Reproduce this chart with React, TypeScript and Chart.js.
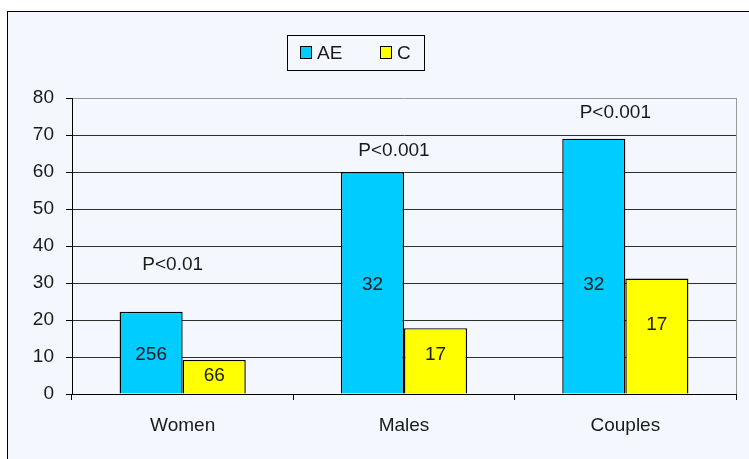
import React, { useEffect, useRef } from 'react';
import { Chart, registerables } from 'chart.js';

Chart.register(...registerables);

const groups = ['Women', 'Males', 'Couples'];
const aeValues = [22.2, 60, 69];
const cValues = [9.2, 17.8, 31.2];
// counts printed inside the bars, and the value level where each sits
const aeCounts = ['256', '32', '32'];
const cCounts = ['66', '17', '17'];
const aeCountAt = [10.5, 29.5, 29.5];
const cCountAt = [4.9, 10.5, 18.6];
// significance notes above each group
const pTexts = ['P<0.01', 'P<0.001', 'P<0.001'];
const pAt = [34.9, 65.8, 76.1];
const yTicks = [0, 10, 20, 30, 40, 50, 60, 70, 80];

const FONT = '"Liberation Sans", Arial, sans-serif';
const AE_COLOR = '#00CCFF';
const C_COLOR = '#FFFF00';

const annotations = {
    id: 'annotations',
    beforeDatasetsDraw(chart: Chart) {
        const { ctx, chartArea } = chart;
        ctx.save();
        ctx.strokeStyle = '#9a9a9a';
        ctx.lineWidth = 1;
        ctx.beginPath();
        ctx.moveTo(Math.round(chartArea.right) + 0.5, chartArea.top);
        ctx.lineTo(Math.round(chartArea.right) + 0.5, chartArea.bottom);
        ctx.stroke();
        ctx.restore();
    },
    afterDatasetsDraw(chart: Chart) {
        const { ctx } = chart;
        const y = chart.scales.y;
        const x = chart.scales.x;
        const aeMeta = chart.getDatasetMeta(0);
        const cMeta = chart.getDatasetMeta(1);
        ctx.save();
        ctx.font = `19px ${FONT}`;
        ctx.fillStyle = '#1a1a1a';
        ctx.textAlign = 'center';
        ctx.textBaseline = 'middle';
        groups.forEach((_, i) => {
            ctx.fillText(aeCounts[i], aeMeta.data[i].x, y.getPixelForValue(aeCountAt[i]));
            ctx.fillText(cCounts[i], cMeta.data[i].x, y.getPixelForValue(cCountAt[i]));
            ctx.fillText(pTexts[i], x.getPixelForValue(i) - 10, y.getPixelForValue(pAt[i]));
        });

        // legend box
        ctx.strokeStyle = '#000';
        ctx.lineWidth = 1;
        ctx.strokeRect(287.5, 35.5, 137, 35);
        ctx.fillStyle = AE_COLOR;
        ctx.fillRect(300.5, 46.5, 11, 12);
        ctx.strokeRect(300.5, 46.5, 11, 12);
        ctx.fillStyle = C_COLOR;
        ctx.fillRect(380.5, 46.5, 11, 12);
        ctx.strokeRect(380.5, 46.5, 11, 12);
        ctx.fillStyle = '#1a1a1a';
        ctx.textAlign = 'left';
        ctx.textBaseline = 'alphabetic';
        ctx.fillText('AE', 317, 59);
        ctx.fillText('C', 397, 59);
        ctx.restore();
    },
};

const App: React.FC = () => {
    const canvasRef = useRef<HTMLCanvasElement | null>(null);
    const chartRef = useRef<Chart | null>(null);

    useEffect(() => {
        if (!canvasRef.current) return;
        if (chartRef.current) chartRef.current.destroy();

        chartRef.current = new Chart(canvasRef.current, {
            type: 'bar',
            data: {
                labels: groups,
                datasets: [
                    { label: 'AE', data: aeValues, backgroundColor: AE_COLOR, borderColor: '#000', borderWidth: 1.4 },
                    { label: 'C', data: cValues, backgroundColor: C_COLOR, borderColor: '#000', borderWidth: 1.4 },
                ],
            },
            options: {
                animation: false,
                responsive: true,
                maintainAspectRatio: false,
                datasets: { bar: { categoryPercentage: 0.57, barPercentage: 1 } },
                layout: { padding: { left: 0, right: 13, top: 98, bottom: 0 } },
                scales: {
                    x: {
                        offset: true,
                        grid: { offset: true, drawOnChartArea: false, drawTicks: true, tickLength: 6, tickColor: '#000' },
                        border: { display: true, color: '#000', width: 1 },
                        ticks: { color: '#1a1a1a', padding: 14, font: { family: FONT, size: 19 } },
                        afterFit: (scale: any) => { scale.height = 65; },
                    },
                    y: {
                        min: 0,
                        max: 80,
                        afterBuildTicks: (scale: any) => { scale.ticks = yTicks.map(v => ({ value: v })); },
                        grid: {
                            color: (c: any) => (c.tick && c.tick.value === 80 ? '#9a9a9a' : '#2e2e2e'),
                            tickLength: 6,
                            tickColor: '#000',
                        },
                        border: { display: true, color: '#000', width: 1 },
                        ticks: { color: '#1a1a1a', padding: 12, font: { family: FONT, size: 19 } },
                        afterFit: (scale: any) => { scale.width = 72; },
                    },
                },
                plugins: {
                    legend: { display: false },
                    tooltip: { enabled: false },
                },
            },
            plugins: [annotations],
        });

        return () => {
            chartRef.current?.destroy();
            chartRef.current = null;
        };
    }, []);

    return (
        <div style={{ position: 'fixed', left: 0, top: 0, width: 749, height: 459, background: '#fff', overflow: 'hidden' }}>
            <div style={{ position: 'absolute', left: 7, top: 11, width: 800, height: 500, border: '1px solid #000', background: '#F4F8FE' }} />
            <div style={{ position: 'absolute', left: 0, top: 0, width: 749, height: 459 }}>
                <canvas ref={canvasRef}></canvas>
            </div>
        </div>
    );
};

export default App;
